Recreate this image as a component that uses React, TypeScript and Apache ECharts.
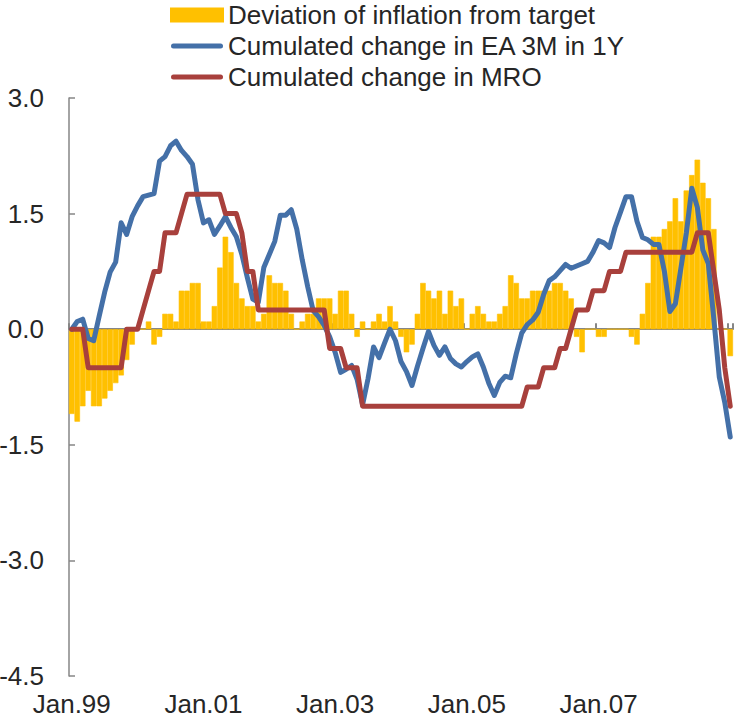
import React, { useEffect, useRef } from "react";
import * as echarts from "echarts";

const MONTHS = ["Jan", "Feb", "Mar", "Apr", "May", "Jun", "Jul", "Aug", "Sep", "Oct", "Nov", "Dec"];
const categories: string[] = [];
for (let y = 1999; y <= 2009; y++) {
  for (let m = 0; m < 12; m++) {
    if (categories.length < 121) categories.push(`${MONTHS[m]}.${String(y % 100).padStart(2, "0")}`);
  }
}

const yTicks = { min: -4.5, max: 3.0, step: 1.5 };

const deviation = [
  -1.1, -1.2, -1.0, -0.8, -1.0, -1.0, -0.9, -0.8, -0.7, -0.6, -0.4, -0.2,
  0, 0, 0.1, -0.2, -0.1, 0.2, 0.2, 0.1, 0.5, 0.5, 0.6, 0.6,
  0.1, 0.1, 0.3, 0.8, 1.2, 1.0, 0.6, 0.4, 0.3, 0.3, 0.1, 0.2,
  0.7, 0.6, 0.6, 0.5, 0.2, 0, 0.1, 0.2, 0.2, 0.4, 0.4, 0.4,
  0.2, 0.5, 0.5, 0.2, -0.1, 0.1, 0, 0.1, 0.2, 0.1, 0.3, 0.1,
  -0.1, -0.3, -0.2, 0.2, 0.6, 0.5, 0.4, 0.5, 0.2, 0.5, 0.3, 0.4,
  0, 0.2, 0.3, 0.2, 0.1, 0.1, 0.2, 0.3, 0.7, 0.6, 0.4, 0.4,
  0.5, 0.5, 0.5, 0.5, 0.6, 0.6, 0.5, 0.4, -0.1, -0.3, 0, 0,
  -0.1, -0.1, 0, 0, 0, 0, -0.1, -0.2, 0.2, 0.6, 1.2, 1.2,
  1.3, 1.4, 1.7, 1.4, 1.8, 2.0, 2.2, 1.9, 1.7, 1.3, 0, 0,
  -0.35,
];

const ea3m = [
  0.0, 0.1, 0.13, -0.12, -0.15, 0.17, 0.48, 0.74, 0.87, 1.38, 1.23, 1.46,
  1.6, 1.72, 1.74, 1.76, 2.18, 2.24, 2.38, 2.44, 2.32, 2.24, 2.14, 1.68,
  1.38, 1.42, 1.23, 1.34, 1.46, 1.32, 1.2, 0.97, 0.67, 0.39, 0.35, 0.8,
  0.97, 1.14, 1.48, 1.48, 1.55, 1.3, 0.9, 0.55, 0.24, 0.16, 0.05, -0.1,
  -0.3, -0.56, -0.52, -0.47, -0.65, -0.98, -0.64, -0.23, -0.37, -0.18, 0.0, -0.15,
  -0.42, -0.55, -0.73, -0.48, -0.25, -0.03, -0.21, -0.34, -0.23, -0.38, -0.45, -0.49,
  -0.42, -0.36, -0.32, -0.49, -0.7, -0.86, -0.69, -0.61, -0.63, -0.32, -0.05, 0.06,
  0.12, 0.22, 0.45, 0.63, 0.68, 0.76, 0.84, 0.79, 0.82, 0.85, 0.88, 1.0,
  1.15, 1.12, 1.06, 1.32, 1.52, 1.72, 1.72, 1.4, 1.19, 1.16, 1.1, 1.1,
  0.75, 0.23, 0.33, 0.79, 1.25, 1.83, 1.58, 1.03, 0.85, 0.14, -0.62, -0.95,
  -1.4,
];

const mro = [
  0, 0, 0, -0.5, -0.5, -0.5, -0.5, -0.5, -0.5, -0.5, 0, 0,
  0, 0.25, 0.5, 0.75, 0.75, 1.25, 1.25, 1.25, 1.5, 1.75, 1.75, 1.75,
  1.75, 1.75, 1.75, 1.75, 1.5, 1.5, 1.5, 1.25, 0.75, 0.75, 0.25, 0.25,
  0.25, 0.25, 0.25, 0.25, 0.25, 0.25, 0.25, 0.25, 0.25, 0.25, 0.25, -0.25,
  -0.25, -0.25, -0.5, -0.5, -0.5, -1.0, -1.0, -1.0, -1.0, -1.0, -1.0, -1.0,
  -1.0, -1.0, -1.0, -1.0, -1.0, -1.0, -1.0, -1.0, -1.0, -1.0, -1.0, -1.0,
  -1.0, -1.0, -1.0, -1.0, -1.0, -1.0, -1.0, -1.0, -1.0, -1.0, -1.0, -0.75,
  -0.75, -0.75, -0.5, -0.5, -0.5, -0.25, -0.25, 0, 0.25, 0.25, 0.25, 0.5,
  0.5, 0.5, 0.75, 0.75, 0.75, 1.0, 1.0, 1.0, 1.0, 1.0, 1.0, 1.0,
  1.0, 1.0, 1.0, 1.0, 1.0, 1.0, 1.25, 1.25, 1.25, 0.75, 0.25, -0.5,
  -1.0,
];

const seriesNames = [
  "Deviation of inflation from target",
  "Cumulated change in EA 3M in 1Y",
  "Cumulated change in MRO",
];
const colors = ["#FFC000", "#4470A8", "#A8403C"];

const AXIS_GRAY = "#868686";
const TEXT = "#262626";
const FONT = "'Liberation Sans', Arial, sans-serif";
const LINE_ICON = "path://M2.5,0 L49.5,0 A2.5,2.5 0 0 1 49.5,5 L2.5,5 A2.5,2.5 0 0 1 2.5,0 Z";

export default function App() {
  const ref = useRef<HTMLDivElement>(null);
  useEffect(() => {
    document.body.style.margin = "0";
    if (!ref.current) return;
    const chart = echarts.init(ref.current, undefined, { renderer: "svg" });
    const tickEvery = (i: number) => i % 24 === 0;
    const labelEvery = (i: number) => i % 24 === 0 && i < 120;
    chart.setOption({
      animation: false,
      textStyle: { fontFamily: FONT },
      legend: {
        orient: "vertical",
        left: 170,
        top: 2,
        padding: 0,
        itemWidth: 52,
        itemHeight: 13,
        itemGap: 5,
        textStyle: { fontSize: 26, color: TEXT, fontFamily: FONT },
        data: [
          { name: seriesNames[0], icon: "rect" },
          { name: seriesNames[1], icon: LINE_ICON },
          { name: seriesNames[2], icon: LINE_ICON },
        ],
      },
      grid: { left: 69, top: 98, right: 2, bottom: 46, containLabel: false, outerBoundsMode: "none" },
      xAxis: [
        {
          type: "category",
          data: categories,
          boundaryGap: true,
          axisLine: { show: true, onZero: true, lineStyle: { color: AXIS_GRAY, width: 2 } },
          axisTick: { show: true, inside: true, length: 6, interval: tickEvery, lineStyle: { color: AXIS_GRAY, width: 2 } },
          axisLabel: { show: false },
          splitLine: { show: false },
        },
        {
          type: "category",
          data: categories,
          position: "bottom",
          boundaryGap: true,
          axisLine: { show: false, onZero: false },
          axisTick: { show: false },
          axisLabel: { interval: labelEvery, fontSize: 26, color: TEXT, margin: 15, fontFamily: FONT, hideOverlap: false },
          splitLine: { show: false },
        },
      ],
      yAxis: {
        type: "value",
        min: yTicks.min,
        max: yTicks.max,
        interval: yTicks.step,
        axisLine: { show: true, onZero: false, lineStyle: { color: AXIS_GRAY, width: 1.5 } },
        axisTick: { show: true, inside: true, length: 6, lineStyle: { color: AXIS_GRAY, width: 1.5 } },
        splitLine: { show: false },
        axisLabel: { formatter: (v: number) => v.toFixed(1), fontSize: 26, color: TEXT, margin: 25, fontFamily: FONT },
      },
      series: [
        {
          name: seriesNames[0],
          type: "bar",
          data: deviation,
          barCategoryGap: "0%",
          itemStyle: { color: colors[0], borderColor: colors[0], borderWidth: 0.6 },
          z: 1,
        },
        {
          name: seriesNames[1],
          type: "line",
          data: ea3m,
          symbol: "none",
          lineStyle: { color: colors[1], width: 5, join: "round", cap: "round" },
          itemStyle: { color: colors[1] },
          z: 3,
        },
        {
          name: seriesNames[2],
          type: "line",
          data: mro,
          symbol: "none",
          lineStyle: { color: colors[2], width: 5, join: "round", cap: "round" },
          itemStyle: { color: colors[2] },
          z: 4,
        },
      ],
    });
    return () => chart.dispose();
  }, []);
  return <div ref={ref} style={{ width: 735, height: 722 }} />;
}
